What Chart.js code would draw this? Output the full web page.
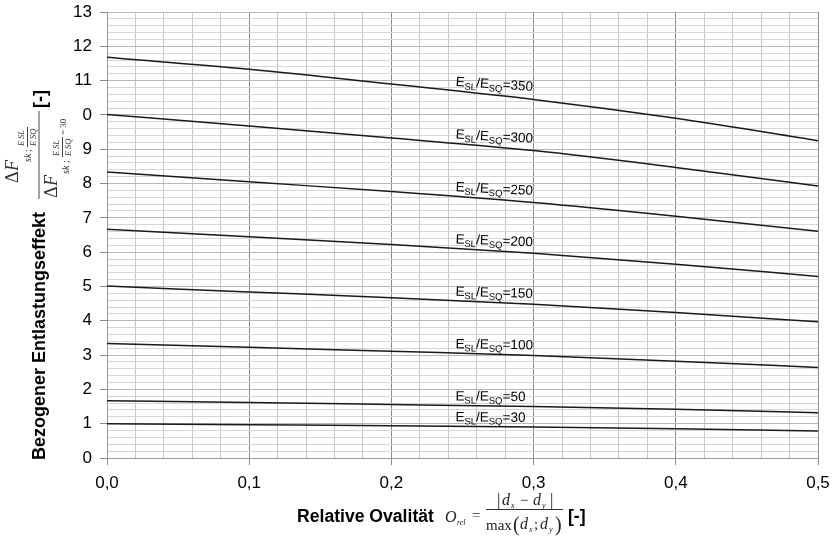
<!DOCTYPE html>
<html>
<head>
<meta charset="utf-8">
<script src="https://cdn.jsdelivr.net/npm/chart.js@4.4.1/dist/chart.umd.min.js"></script>
<style>
  html, body { margin: 0; padding: 0; background: #fff; }
  #wrap { width: 836px; height: 539px; }
</style>
</head>
<body>
<div id="wrap"><canvas id="c" width="836" height="539"></canvas></div>
<script>
// ---------- data ----------
const xValues = [0, 0.1, 0.2, 0.3, 0.4, 0.5];
const ratios = [30, 50, 100, 150, 200, 250, 300, 350];
const r30  = [1.00, 0.97, 0.94, 0.90, 0.85, 0.79];
const r50  = [1.67, 1.62, 1.56, 1.50, 1.42, 1.32];
const r100 = [3.34, 3.23, 3.11, 2.99, 2.82, 2.64];
const r150 = [5.01, 4.84, 4.67, 4.48, 4.24, 3.97];
const r200 = [6.67, 6.45, 6.22, 5.97, 5.65, 5.29];
const r250 = [8.34, 8.05, 7.77, 7.45, 7.05, 6.61];
const r300 = [10.01, 9.68, 9.33, 8.96, 8.47, 7.93];
const r350 = [11.68, 11.33, 10.90, 10.45, 9.90, 9.25];
const seriesValues = [r30, r50, r100, r150, r200, r250, r300, r350];
const xTickLabels = ['0,0', '0,1', '0,2', '0,3', '0,4', '0,5'];
const yTickLabels = ['0','1','2','3','4','5','6','7','8','9','10','11','12','13'];

// ---------- helpers ----------
const SANS = '"Liberation Sans", Arial, sans-serif';
const SERIF = '"Liberation Serif", "Times New Roman", serif';
function near(v, step) { return Math.abs(v / step - Math.round(v / step)) < 1e-6; }

const datasets = seriesValues.map((vals, i) => ({
  label: 'E_SL/E_SQ=' + ratios[i],
  data: xValues.map((x, j) => ({ x: x, y: vals[j] })),
  borderColor: '#1a1a1a',
  borderWidth: 1.5,
  pointRadius: 0,
  fill: false,
  cubicInterpolationMode: 'monotone'
}));

const curveLabels = {
  id: 'curveLabels',
  afterDatasetsDraw(chart) {
    const ctx = chart.ctx;
    const xs = chart.scales.x, ys = chart.scales.y;
    const lx = 0.245;
    seriesValues.forEach((vals, i) => {
      const k = Math.floor(lx / 0.1);
      const t = (lx - xValues[k]) / (xValues[k + 1] - xValues[k]);
      const v = vals[k] + t * (vals[k + 1] - vals[k]);
      const px = xs.getPixelForValue(lx);
      const py = ys.getPixelForValue(v);
      const dy = ys.getPixelForValue(vals[k + 1]) - ys.getPixelForValue(vals[k]);
      const dx = xs.getPixelForValue(xValues[k + 1]) - xs.getPixelForValue(xValues[k]);
      const ang = Math.atan2(dy, dx) * 0.6;
      ctx.save();
      ctx.translate(px, py - 5);
      ctx.rotate(ang);
      ctx.fillStyle = '#000';
      ctx.textBaseline = 'alphabetic';
      ctx.textAlign = 'left';
      let x = 0;
      const big = '13.5px ' + SANS, small = '9.5px ' + SANS;
      const part = (txt, font, off) => { ctx.font = font; ctx.fillText(txt, x, off); x += ctx.measureText(txt).width; };
      part('E', big, 0); part('SL', small, 3); part('/', big, 0);
      part('E', big, 0); part('SQ', small, 3); part('=' + ratios[i], big, 0);
      ctx.restore();
    });
  }
};

const titles = {
  id: 'titles',
  afterDraw(chart) {
    const ctx = chart.ctx;
    ctx.save();
    ctx.fillStyle = '#000';
    // y title
    ctx.save();
    ctx.translate(40, 336); ctx.rotate(-Math.PI / 2);
    ctx.font = 'bold 18px ' + SANS;
    ctx.textAlign = 'center'; ctx.textBaseline = 'middle';
    ctx.fillText('Bezogener Entlastungseffekt', 0, 0);
    ctx.restore();
    // formula background (opaque like the embedded formula)
    ctx.fillStyle = '#fff';
    ctx.fillRect(60, 104, 22, 22);
    ctx.fillStyle = '#000';
    // [-]
    ctx.save();
    ctx.translate(41, 99); ctx.rotate(-Math.PI / 2);
    ctx.font = 'bold 18px ' + SANS;
    ctx.textAlign = 'center'; ctx.textBaseline = 'middle';
    ctx.fillText('[-]', 0, 0);
    ctx.restore();
    // fraction (rotated)
    ctx.save();
    ctx.translate(40, 155); ctx.rotate(-Math.PI / 2);
    ctx.fillStyle = '#333'; ctx.strokeStyle = '#444'; ctx.lineWidth = 1;
    ctx.textBaseline = 'alphabetic'; ctx.textAlign = 'left';
    ctx.beginPath(); ctx.moveTo(-44, -1); ctx.lineTo(44, -1); ctx.stroke();
    // numerator
    ctx.font = '18px ' + SERIF; ctx.fillText('Δ', -28, -22);
    ctx.font = 'italic 18px ' + SERIF; ctx.fillText('F', -16, -22);
    ctx.font = 'italic 10px ' + SERIF; ctx.fillText('sk', -7, -9);
    ctx.font = '10px ' + SERIF; ctx.fillText(';', 3, -9);
    ctx.font = 'italic 8.5px ' + SERIF; ctx.fillText('E', 9, -16); ctx.fillText('SL', 16, -16);
    ctx.fillText('E', 9, -4); ctx.fillText('SQ', 16, -4);
    ctx.beginPath(); ctx.moveTo(8, -12.5); ctx.lineTo(28, -12.5); ctx.stroke();
    // denominator
    ctx.font = '18px ' + SERIF; ctx.fillText('Δ', -43, 17);
    ctx.font = 'italic 18px ' + SERIF; ctx.fillText('F', -31, 17);
    ctx.font = 'italic 10px ' + SERIF; ctx.fillText('sk', -19, 29);
    ctx.font = '10px ' + SERIF; ctx.fillText(';', -8, 29);
    ctx.font = 'italic 8.5px ' + SERIF; ctx.fillText('E', -1, 19); ctx.fillText('SL', 6, 19);
    ctx.fillText('E', -1, 31); ctx.fillText('SQ', 6, 31);
    ctx.beginPath(); ctx.moveTo(-2, 22.5); ctx.lineTo(18, 22.5); ctx.stroke();
    ctx.font = '9px ' + SERIF; ctx.fillText('= 30', 20, 26);
    ctx.restore();

    // x title
    ctx.fillStyle = '#000';
    ctx.font = 'bold 17.6px ' + SANS;
    ctx.textAlign = 'left'; ctx.textBaseline = 'alphabetic';
    ctx.fillText('Relative Ovalität', 297, 522);
    ctx.fillStyle = '#222';
    ctx.font = 'italic 16px ' + SERIF; ctx.fillText('O', 445, 522);
    ctx.font = 'italic 8px ' + SERIF; ctx.fillText('rel', 457, 525);
    ctx.font = '15px ' + SERIF; ctx.fillText('=', 472, 520);
    ctx.strokeStyle = '#333'; ctx.lineWidth = 1;
    ctx.beginPath(); ctx.moveTo(486, 509.5); ctx.lineTo(563, 509.5); ctx.stroke();
    // numerator |dx - dy|
    ctx.font = '17px ' + SERIF; ctx.fillText('|', 497, 505);
    ctx.font = 'italic 16px ' + SERIF; ctx.fillText('d', 502, 505);
    ctx.font = 'italic 8px ' + SERIF; ctx.fillText('x', 511, 508);
    ctx.font = '15px ' + SERIF; ctx.fillText('−', 520, 505);
    ctx.font = 'italic 16px ' + SERIF; ctx.fillText('d', 533, 505);
    ctx.font = 'italic 8px ' + SERIF; ctx.fillText('y', 542, 508);
    ctx.font = '17px ' + SERIF; ctx.fillText('|', 550, 505);
    // denominator max(dx;dy)
    ctx.font = '15px ' + SERIF; ctx.fillText('max', 486, 530);
    ctx.font = '20px ' + SERIF; ctx.fillText('(', 513, 531);
    ctx.font = 'italic 16px ' + SERIF; ctx.fillText('d', 520, 529);
    ctx.font = 'italic 8px ' + SERIF; ctx.fillText('x', 529, 532);
    ctx.font = '15px ' + SERIF; ctx.fillText(';', 534, 529);
    ctx.font = 'italic 16px ' + SERIF; ctx.fillText('d', 540, 529);
    ctx.font = 'italic 8px ' + SERIF; ctx.fillText('y', 549, 532);
    ctx.font = '20px ' + SERIF; ctx.fillText(')', 555, 531);
    ctx.fillStyle = '#000';
    ctx.font = 'bold 17.6px ' + SANS; ctx.fillText('[-]', 568, 522);
    ctx.restore();
  }
};

new Chart(document.getElementById('c'), {
  type: 'line',
  data: { datasets: datasets },
  options: {
    responsive: false,
    devicePixelRatio: 1,
    animation: false,
    layout: { padding: { left: 0, top: 12, right: 18, bottom: 0 } },
    plugins: { legend: { display: false }, tooltip: { enabled: false } },
    scales: {
      x: {
        type: 'linear', min: 0, max: 0.5,
        afterFit(s) { s.height = 81; s.paddingLeft = 0; s.paddingRight = 0; },
        border: { color: '#999', width: 1 },
        grid: {
          color: c => (c.tick && near(c.tick.value, 0.1)) ? '#8a8a8a' : '#c6c6c6',
          tickColor: c => (c.tick && near(c.tick.value, 0.1)) ? '#8a8a8a' : 'rgba(0,0,0,0)',
          tickLength: 7, lineWidth: 1
        },
        ticks: {
          stepSize: 0.02, autoSkip: false, maxRotation: 0, padding: 8,
          color: '#000', font: { family: SANS, size: 17 },
          callback: v => near(v, 0.1) ? xTickLabels[Math.round(v * 10)] : ''
        }
      },
      y: {
        type: 'linear', min: 0, max: 13,
        afterFit(s) { s.width = 107; s.paddingTop = 0; s.paddingBottom = 0; },
        border: { color: '#999', width: 1 },
        grid: {
          color: c => (c.tick && near(c.tick.value, 1)) ? '#b8b8b8' : '#d6d6d6',
          tickColor: c => (c.tick && near(c.tick.value, 1)) ? '#8a8a8a' : 'rgba(0,0,0,0)',
          tickLength: 7, lineWidth: 1
        },
        ticks: {
          stepSize: 0.2, autoSkip: false, maxTicksLimit: 200, padding: 8,
          color: '#000', font: { family: SANS, size: 17 },
          callback: v => near(v, 1) ? yTickLabels[Math.round(v)] : ''
        }
      }
    }
  },
  plugins: [curveLabels, titles]
});
</script>
</body>
</html>
